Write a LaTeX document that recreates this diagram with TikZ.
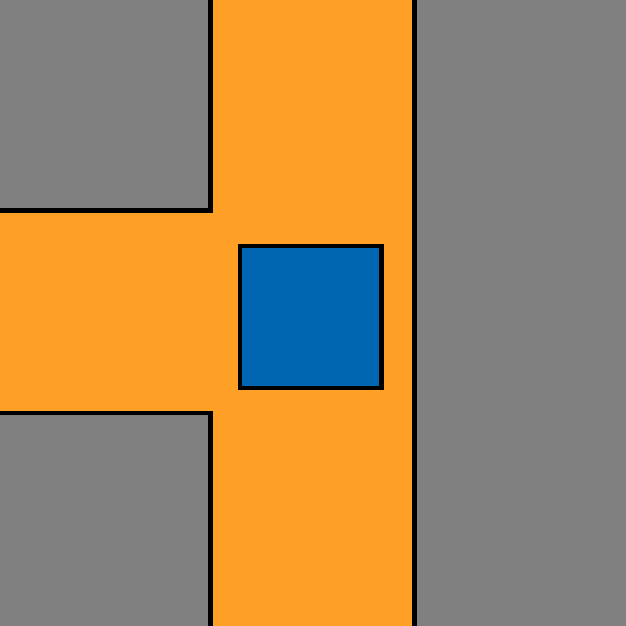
\documentclass[tikz,border=0pt]{standalone}
\definecolor{roadorange}{HTML}{FFA026}
\definecolor{blockgray}{HTML}{808080}
\definecolor{carblue}{HTML}{0066B1}
\begin{document}
\begin{tikzpicture}[x=1pt,y=-1pt,
  block/.style={fill=blockgray,draw=black,line width=4.8pt},
  car/.style={fill=carblue,draw=black,line width=4.8pt}]
\useasboundingbox (0,0) rectangle (626,626);
\clip (0,0) rectangle (626,626);
\fill[roadorange] (0,0) rectangle (626,626);
\draw[block] (-10,-10) rectangle (210.5,210.5);
\draw[block] (-10,413) rectangle (210.5,636);
\draw[block] (414.5,-10) rectangle (636,636);
\draw[car] (240,246) rectangle (381.5,388);
\end{tikzpicture}
\end{document}
